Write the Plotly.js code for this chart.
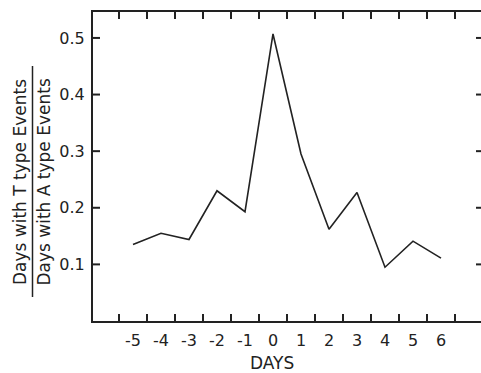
<!DOCTYPE html>
<html>
<head>
<meta charset="utf-8">
<script src="https://cdn.plot.ly/plotly-3.0.1.min.js"></script>
<style>
html,body{margin:0;padding:0;overflow:hidden;background:#fff;}
#chart{width:484px;height:373px;}
</style>
</head>
<body>
<div id="chart"></div>
<script>
var days = [-5, -4, -3, -2, -1, 0, 1, 2, 3, 4, 5, 6];
var ratio = [0.135, 0.155, 0.144, 0.230, 0.193, 0.507, 0.295, 0.162, 0.227, 0.095, 0.141, 0.111];
var xTickVals = [-5, -4, -3, -2, -1, 0, 1, 2, 3, 4, 5, 6];
var xTickText = ['-5', '-4', '-3', '-2', '-1', '0', '1', '2', '3', '4', '5', '6'];
var xMinorTicks = [-5.5, -4.5, -3.5, -2.5, -1.5, -0.5, 0.5, 1.5, 2.5, 3.5, 4.5, 5.5, 6.5];
var yTickVals = [0.1, 0.2, 0.3, 0.4, 0.5];
var yTickText = ['0.1', '0.2', '0.3', '0.4', '0.5'];
var yTitleTop = 'Days with T type Events';
var yTitleBottom = 'Days with A type Events';
var xTitle = 'DAYS';

var ink = '#222222';
var fontFam = 'DejaVu Sans, sans-serif';

var L = 93, R = 483, T = 12, B = 321;
function px(x){ return (x - L) / (R - L); }
function py(y){ return (B - y) / (B - T); }
var xRange = [(L - 273) / 28, (R - 273) / 28];
var yRange = [0, 0.5 + (38 - 12) / 567.5];
var tickLen = 7;
var dX = tickLen * (xRange[1] - xRange[0]) / (R - L);
var dY = tickLen * (yRange[1] - yRange[0]) / (B - T);

var trace = {
  x: days, y: ratio, type: 'scatter', mode: 'lines',
  line: {color: ink, width: 1.6},
  hoverinfo: 'skip'
};

// inward tick marks on the four frame sides, one small trace per side
function seg(xs, ys){
  return {x: xs, y: ys, type: 'scatter', mode: 'lines', connectgaps: false,
          line: {color: ink, width: 2}, cliponaxis: false, hoverinfo: 'skip'};
}
var bx = [], by = [], tx = [], ty = [], lx = [], ly = [], rx = [], ry = [];
xMinorTicks.forEach(function(v){
  bx.push(v, v, null); by.push(yRange[0], yRange[0] + dY, null);
  tx.push(v, v, null); ty.push(yRange[1], yRange[1] - dY, null);
});
yTickVals.forEach(function(v){
  lx.push(xRange[0], xRange[0] + dX, null); ly.push(v, v, null);
  rx.push(xRange[1], xRange[1] - dX, null); ry.push(v, v, null);
});
var tickTraces = [seg(bx, by), seg(tx, ty), seg(lx, ly), seg(rx, ry)];

var layout = {
  width: 484, height: 373,
  margin: {l: L, r: 484 - R, t: T, b: 373 - B, pad: 0},
  paper_bgcolor: '#ffffff', plot_bgcolor: '#ffffff',
  showlegend: false,
  font: {family: fontFam, size: 16, color: ink},
  xaxis: {
    range: xRange,
    tickmode: 'array', tickvals: xTickVals, ticktext: xTickText,
    ticks: 'outside', ticklen: 4, tickcolor: 'rgba(0,0,0,0)',
    showgrid: false, zeroline: false,
    showline: true, linecolor: ink, linewidth: 2, mirror: true,
    tickfont: {family: fontFam, size: 16, color: ink}
  },
  yaxis: {
    range: yRange,
    tickmode: 'array', tickvals: yTickVals, ticktext: yTickText,
    ticks: 'outside', ticklen: 3, tickcolor: 'rgba(0,0,0,0)',
    showgrid: false, zeroline: false,
    showline: true, linecolor: ink, linewidth: 2, mirror: true,
    tickfont: {family: fontFam, size: 16, color: ink}
  },
  annotations: [
    {xref: 'paper', yref: 'paper', x: px(20), y: py(182), text: yTitleTop, textangle: -90,
     showarrow: false, xanchor: 'center', yanchor: 'middle', font: {family: fontFam, size: 17, color: ink}},
    {xref: 'paper', yref: 'paper', x: px(43.5), y: py(182), text: yTitleBottom, textangle: -90,
     showarrow: false, xanchor: 'center', yanchor: 'middle', font: {family: fontFam, size: 17, color: ink}},
    {xref: 'paper', yref: 'paper', x: px(272), y: py(363), text: xTitle,
     showarrow: false, xanchor: 'center', yanchor: 'middle', font: {family: fontFam, size: 17, color: ink}}
  ],
  shapes: [
    {type: 'line', xref: 'paper', yref: 'paper', x0: px(32.5), x1: px(32.5), y0: py(66), y1: py(297),
     line: {color: ink, width: 1.5}}
  ]
};

Plotly.newPlot('chart', [trace].concat(tickTraces), layout, {displayModeBar: false, staticPlot: true});
</script>
</body>
</html>
